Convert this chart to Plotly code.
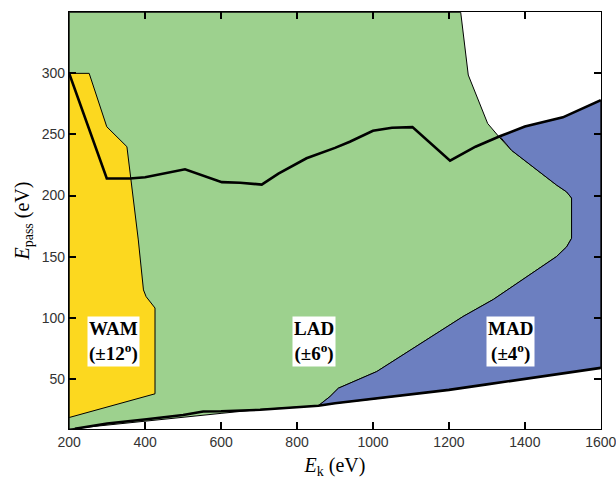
import plotly.graph_objects as go

# ---- data ----
# Green (LAD) region outline
lad_x = [200, 200, 1231, 1251, 1302, 1332, 1365, 1483, 1510, 1523, 1523, 1510, 1483, 1391, 1317, 1237, 1027, 1010, 909, 887, 856, 800, 703, 600, 400, 210, 200]
lad_y = [9, 350, 350, 298.6, 259, 248, 237, 208.7, 203, 198, 165, 158, 150, 131, 115, 101, 60, 56, 42.4, 35.6, 28, 27, 25, 21.8, 15.2, 9, 9]

# Yellow (WAM) region outline
wam_x = [200, 252.6, 299, 352, 382, 395.6, 402.6, 426, 426, 200, 200]
wam_y = [300, 300, 256.3, 240, 163.7, 122.8, 117.3, 108, 37.8, 18.4, 300]

# Blue (MAD) region outline
mad_x = [856, 900, 1000, 1100, 1200, 1300, 1400, 1500, 1600, 1600, 1500, 1400, 1334, 1365, 1483, 1510, 1523, 1523, 1510, 1483, 1391, 1317, 1237, 1027, 1010, 909, 887, 856]
mad_y = [28, 30, 33.5, 37, 41, 45.5, 50, 54.5, 59, 278, 264, 256.5, 248.5, 237, 208.7, 203, 198, 165, 158, 150, 131, 115, 101, 60, 56, 42.4, 35.6, 28]

# Upper thick boundary line
up_x = [200, 299, 360, 400, 505, 545, 602, 650, 707, 751, 825, 900, 939, 1000, 1050, 1104, 1203, 1270, 1334, 1400, 1500, 1600]
up_y = [300, 214, 214, 215, 221.5, 217, 211, 210.5, 209, 218, 230.5, 239, 244, 253, 255.5, 256, 228.5, 240, 248.5, 256.5, 264, 278]

# Lower thick boundary line
lo_x = [215, 300, 404, 500, 553, 600, 703, 800, 856, 900, 1000, 1100, 1200, 1300, 1400, 1500, 1600]
lo_y = [9.2, 13.5, 17, 20.5, 23.3, 23.5, 24.7, 27, 28, 30, 33.5, 37, 41, 45.5, 50, 54.5, 59]

labels = ["WAM<br>(±12<sup>o</sup>)", "LAD<br>(±6<sup>o</sup>)", "MAD<br>(±4<sup>o</sup>)"]
label_x = [316, 845, 1362]
label_y = [81, 81, 81]

x_ticks = [200, 400, 600, 800, 1000, 1200, 1400, 1600]
y_ticks = [50, 100, 150, 200, 250, 300]

GREEN = "#9dd18e"
YELLOW = "#fcd81f"
BLUE = "#6c7fc0"

fig = go.Figure()
fig.add_trace(go.Scatter(x=lad_x, y=lad_y, fill="toself", fillcolor=GREEN, mode="lines",
                         line=dict(color="black", width=1), hoverinfo="skip"))
fig.add_trace(go.Scatter(x=wam_x, y=wam_y, fill="toself", fillcolor=YELLOW, mode="lines",
                         line=dict(color="black", width=1), hoverinfo="skip"))
fig.add_trace(go.Scatter(x=mad_x, y=mad_y, fill="toself", fillcolor=BLUE, mode="lines",
                         line=dict(color="black", width=1), hoverinfo="skip"))
fig.add_trace(go.Scatter(x=up_x, y=up_y, mode="lines", line=dict(color="black", width=2.6)))
fig.add_trace(go.Scatter(x=lo_x, y=lo_y, mode="lines", line=dict(color="black", width=2.6)))

for t, xx, yy in zip(labels, label_x, label_y):
    fig.add_annotation(x=xx, y=yy, text=t, showarrow=False, bgcolor="white",
                       borderpad=1, align="center",
                       font=dict(family="Liberation Serif", size=19, color="black", weight="bold"))

fig.update_layout(
    width=616, height=479, margin=dict(l=69, r=15, t=12, b=50, autoexpand=False),
    paper_bgcolor="white", plot_bgcolor="white", showlegend=False,
)
common = dict(ticks="inside", ticklen=7, tickwidth=1.5, tickcolor="black", mirror="allticks",
              showline=True, linecolor="black", linewidth=1.2, showgrid=False, zeroline=False,
              layer="above traces", ticklabeloverflow="allow", automargin=False,
              tickfont=dict(family="Liberation Sans", size=14, color="#333"))
fig.update_xaxes(range=[199.5, 1600.5], tickmode="array", tickvals=x_ticks,
                 ticktext=[str(v) for v in x_ticks],
                 title=dict(text="<i>E</i><sub>k</sub> (eV)", standoff=9,
                            font=dict(family="Liberation Serif", size=20, color="black")),
                 **common)
fig.update_yaxes(range=[9, 350.2], tickmode="array", tickvals=y_ticks,
                 ticktext=[str(v) for v in y_ticks],
                 title=dict(text="<i>E</i><sub>pass</sub> (eV)", standoff=6,
                            font=dict(family="Liberation Serif", size=20, color="black")),
                 **common)

fig.write_html("out.html")
